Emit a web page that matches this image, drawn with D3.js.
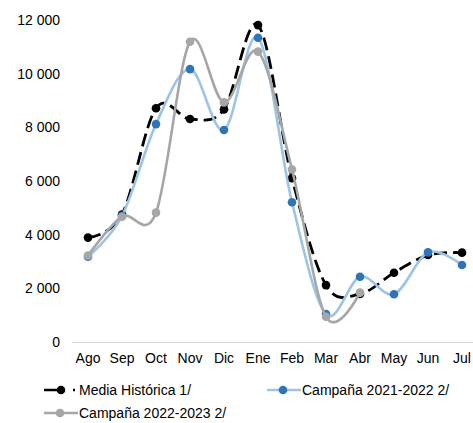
<!DOCTYPE html>
<html>
<head>
<meta charset="utf-8">
<script src="https://cdn.jsdelivr.net/npm/d3@7"></script>
<style>
  body { margin: 0; background: #fff; }
  svg text { font-family: "Liberation Sans", Arial, sans-serif; font-size: 14px; fill: #000; }
</style>
</head>
<body>
<svg id="chart" width="473" height="423"></svg>
<script>
// months of the campaign (Aug -> Jul)
const months = ["Ago","Sep","Oct","Nov","Dic","Ene","Feb","Mar","Abr","May","Jun","Jul"];
const yTicks = [0, 2000, 4000, 6000, 8000, 10000, 12000];

// values
const mediaHistorica = [3890, 4750, 8710, 8310, 8670, 11810, 6100, 2120, 1790, 2580, 3240, 3330];
const campana2122   = [3180, 4700, 8120, 10170, 7900, 11340, 5210, 1040, 2430, 1780, 3340, 2870];
const campana2223   = [3220, 4670, 4820, 11190, 8930, 10820, 6430, 940, 1840];

const series = [
  { name: "Media Histórica 1/", values: mediaHistorica, line: "#000000", dot: "#000000", dash: "13,6" },
  { name: "Campaña 2021-2022 2/", values: campana2122, line: "#9dc3e6", dot: "#2e75b6", dash: null },
  { name: "Campaña 2022-2023 2/", values: campana2223, line: "#a6a6a6", dot: "#a6a6a6", dash: null }
];

const svg = d3.select("#chart");

const x = d3.scaleBand().domain(months).range([71, 479]).padding(0);
const y = d3.scaleLinear().domain([0, 12000]).range([342, 20]);
const cx = m => x(m) + x.bandwidth() / 2;

// y labels (no axis line)
svg.append("g").selectAll("text")
  .data(yTicks)
  .join("text")
    .attr("x", 60)
    .attr("y", d => y(d))
    .attr("dy", "0.35em")
    .attr("text-anchor", "end")
    .text(d => d3.format(",")(d).replace(",", " "));

// x axis
const xAxis = svg.append("g").attr("transform", "translate(0,342)")
  .call(d3.axisBottom(x).tickSize(0).tickPadding(11));
xAxis.select(".domain").attr("stroke", "#d9d9d9").attr("stroke-width", 1.2);
xAxis.selectAll("text").style("font-size", "14px").attr("font-family", null);

const line = d3.line()
  .x((d, i) => cx(months[i]))
  .y(d => y(d))
  .curve(d3.curveCatmullRom.alpha(0));

series.forEach(s => {
  const g = svg.append("g");
  g.append("path")
    .datum(s.values)
    .attr("fill", "none")
    .attr("stroke", s.line)
    .attr("stroke-width", s.dash ? 2.8 : 2.6)
    .attr("stroke-dasharray", s.dash)
    .attr("d", line);
  g.selectAll("circle")
    .data(s.values)
    .join("circle")
      .attr("cx", (d, i) => cx(months[i]))
      .attr("cy", d => y(d))
      .attr("r", 4.3)
      .attr("fill", s.dot);
});

// legend
const legendPos = [
  { x: 44, y: 390 },
  { x: 267, y: 390 },
  { x: 44, y: 413 }
];
series.forEach((s, i) => {
  const p = legendPos[i];
  const g = svg.append("g").attr("transform", `translate(${p.x},${p.y})`);
  g.append("line")
    .attr("x1", 0).attr("x2", 34).attr("y1", 0).attr("y2", 0)
    .attr("stroke", s.line)
    .attr("stroke-width", 2.6)
    .attr("stroke-dasharray", s.dash ? "19,10,2,10" : null);
  g.append("circle").attr("cx", i === 0 ? 17 : 16).attr("cy", 0).attr("r", 4.3).attr("fill", s.dot);
  g.append("text")
    .attr("x", 35)
    .attr("dy", "0.35em")
    .text(s.name);
});
</script>
</body>
</html>
